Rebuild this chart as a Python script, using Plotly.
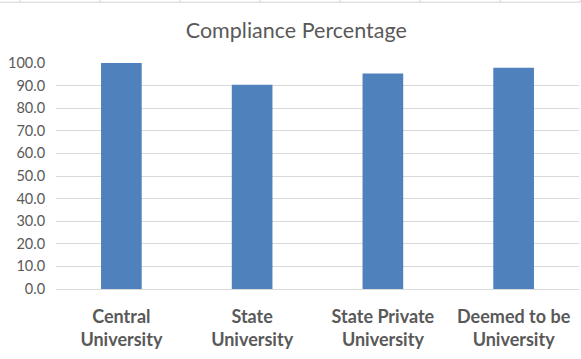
import plotly.graph_objects as go

categories = ["Central<br>University", "State<br>University", "State Private<br>University", "Deemed to be<br>University"]
values = [100.0, 90.4, 95.3, 97.9]
tick_vals = [0, 10, 20, 30, 40, 50, 60, 70, 80, 90, 100]
tick_text = ["%.1f" % v for v in tick_vals]

W, H = 581, 359
ml, mr, mt, mb = 56, 2.3, 63.3, 69.7
pw, ph = W - ml - mr, H - mt - mb

def px(x):
    return (x - ml) / pw

def py(y):
    return (H - mb - y) / ph

fig = go.Figure()
fig.add_trace(go.Bar(x=categories, y=values, marker=dict(color="#4f81bd", line=dict(width=0)), width=0.311,
                     hoverinfo="skip"))

shapes = [dict(type="line", xref="paper", yref="paper", x0=px(0), x1=px(580), y0=py(2.5), y1=py(2.5),
               line=dict(color="#d4d4d4", width=1))]
for xv in [20, 100, 180, 260, 340, 420, 500, 580]:
    shapes.append(dict(type="line", xref="paper", yref="paper", x0=px(xv), x1=px(xv), y0=py(0), y1=py(2.5),
                       line=dict(color="#d4d4d4", width=1)))

fig.update_layout(
    width=W, height=H,
    margin=dict(l=ml, r=mr, t=mt, b=mb, pad=0, autoexpand=False),
    paper_bgcolor="white", plot_bgcolor="white",
    title=dict(text="Compliance Percentage", x=0.51, xanchor="center", y=1 - 30 / H, yanchor="middle",
               font=dict(family="Lato, Open Sans, sans-serif", size=21.5, color="#595959")),
    font=dict(family="Lato, Open Sans, sans-serif", color="#595959"),
    showlegend=False,
    shapes=shapes,
    xaxis=dict(showgrid=False, showline=True, linecolor="#d9d9d9", linewidth=1, automargin=False,
               tickfont=dict(size=18, color="#595959", family="Lato, Open Sans, sans-serif", weight="bold"),
               ticks="outside", ticklen=11, tickcolor="rgba(0,0,0,0)", fixedrange=True),
    yaxis=dict(range=[0, 100], tickvals=tick_vals, ticktext=tick_text, showgrid=True, automargin=False,
               gridcolor="#d9d9d9", gridwidth=1, zeroline=False, showline=False, fixedrange=True,
               tickfont=dict(size=14.5, color="#595959", family="Lato, Open Sans, sans-serif"),
               ticks="outside", ticklen=7, tickcolor="rgba(0,0,0,0)"),
)

fig.write_html("out.html", config={"displayModeBar": False, "staticPlot": True},
               post_script="document.body.style.margin='0';document.body.style.padding='0';")
